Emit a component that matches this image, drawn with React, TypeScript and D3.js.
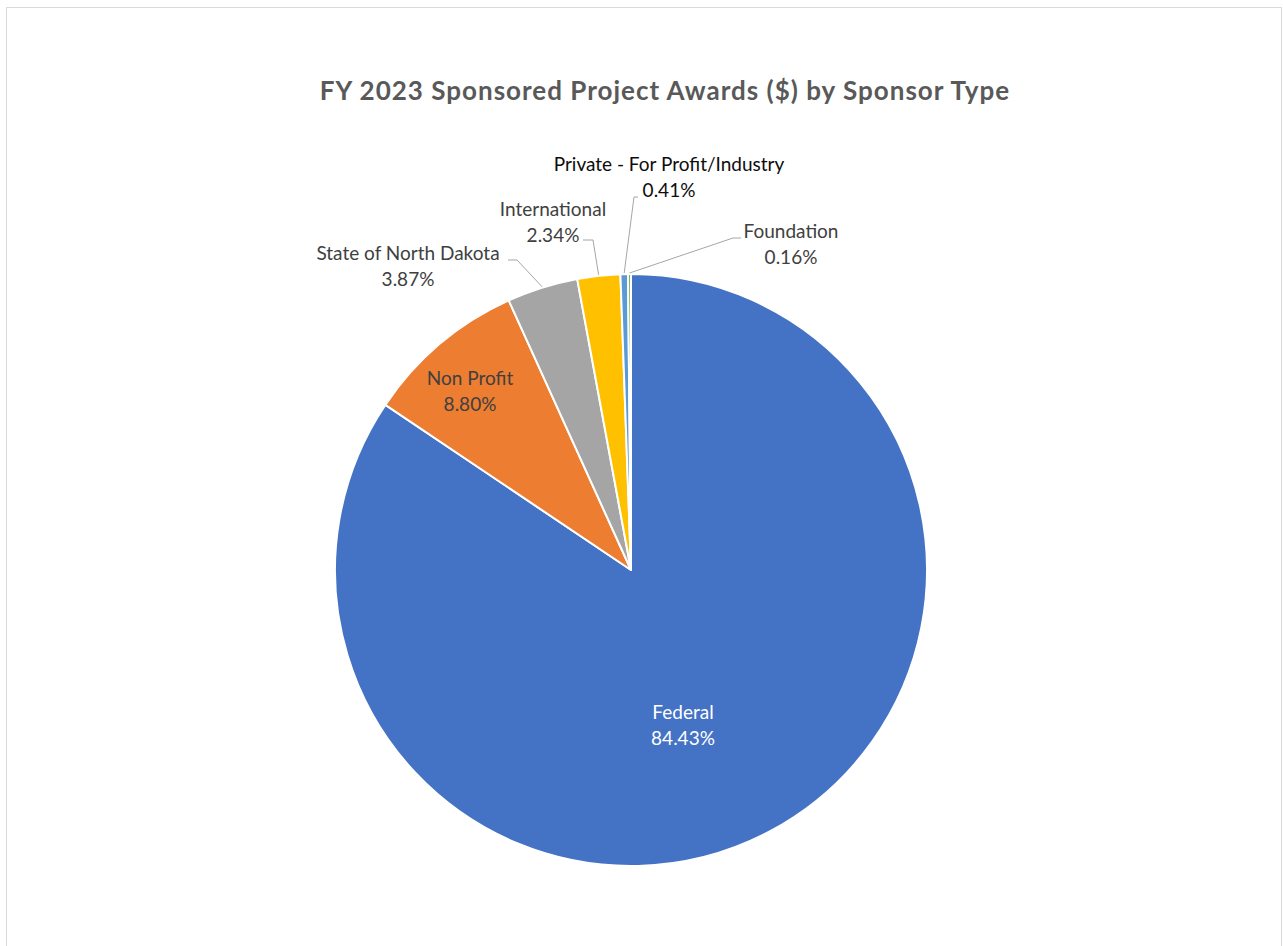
import React, { useEffect, useRef } from 'react';
import * as d3 from 'd3';

const categories = ['Federal', 'Non Profit', 'State of North Dakota', 'International', 'Private - For Profit/Industry', 'Foundation'];
const shares = [84.43, 8.80, 3.87, 2.34, 0.41, 0.16];
const colors = ['#4472C4', '#ED7D31', '#A5A5A5', '#FFC000', '#5B9BD5', '#70AD47'];

// label placement (svg coords): text center, first baseline; elbow = where the leader bends
const labelLayout: Record<string, { x: number; y: number; fill: string; elbow?: [number, number]; tail?: number }> = {
  'Federal': { x: 683, y: 719, fill: '#ffffff' },
  'Non Profit': { x: 470, y: 385, fill: '#404040' },
  'State of North Dakota': { x: 408, y: 260, fill: '#404040', elbow: [517, 260], tail: 508 },
  'International': { x: 553, y: 216, fill: '#404040', elbow: [593, 240], tail: 583 },
  'Private - For Profit/Industry': { x: 669, y: 171, fill: '#0d0d0d', elbow: [634, 197], tail: 638 },
  'Foundation': { x: 791, y: 238, fill: '#404040', elbow: [733, 238], tail: 741 },
};

const App = () => {
  const ref = useRef<SVGSVGElement | null>(null);
  const width = 1283;
  const height = 946;

  useEffect(() => {
    if (!ref.current) return;
    const svg = d3.select(ref.current);
    svg.selectAll('*').remove();

    const font = 'Lato, "Open Sans", sans-serif';

    svg.append('rect')
      .attr('x', 6.5).attr('y', 7.5)
      .attr('width', 1275).attr('height', 1000)
      .attr('fill', '#fff')
      .attr('stroke', '#D9D9D9');

    svg.append('text')
      .attr('x', 665).attr('y', 100)
      .attr('text-anchor', 'middle')
      .attr('font-family', font)
      .attr('font-weight', 700)
      .attr('font-size', 26)
      .attr('letter-spacing', 1)
      .attr('fill', '#595959')
      .text('FY 2023 Sponsored Project Awards ($) by Sponsor Type');

    const cx = 631, cy = 570, radius = 296;
    const g = svg.append('g').attr('transform', `translate(${cx},${cy})`);

    const data = categories.map((c, i) => ({ name: c, value: shares[i], color: colors[i] }));
    type D = typeof data[number];

    const pie = d3.pie<D>().sort(null).value(d => d.value);
    const arcs = pie(data);
    const arc = d3.arc<d3.PieArcDatum<D>>().innerRadius(0).outerRadius(radius);

    g.selectAll('path.slice')
      .data(arcs)
      .enter().append('path')
      .attr('class', 'slice')
      .attr('d', arc)
      .attr('fill', d => d.data.color)
      .attr('stroke', '#fff')
      .attr('stroke-width', 2)
      .attr('stroke-linejoin', 'round');

    // leader lines
    arcs.forEach(a => {
      const lay = labelLayout[a.data.name];
      if (!lay.elbow) return;
      const mid = (a.startAngle + a.endAngle) / 2;
      const px = cx + Math.sin(mid) * (radius + 1);
      const py = cy - Math.cos(mid) * (radius + 1);
      svg.append('polyline')
        .attr('points', `${px},${py} ${lay.elbow[0]},${lay.elbow[1]} ${lay.tail},${lay.elbow[1]}`)
        .attr('fill', 'none')
        .attr('stroke', '#A6A6A6')
        .attr('stroke-width', 1);
    });

    // labels
    arcs.forEach(a => {
      const lay = labelLayout[a.data.name];
      const t = svg.append('text')
        .attr('text-anchor', 'middle')
        .attr('font-family', font)
        .attr('font-size', 19)
        .attr('fill', lay.fill);
      t.append('tspan').attr('x', lay.x).attr('y', lay.y).text(a.data.name);
      t.append('tspan').attr('x', lay.x).attr('y', lay.y + 26).text(`${a.data.value.toFixed(2)}%`);
    });
  }, []);

  return (
    <svg ref={ref} width={width} height={height}
      style={{ position: 'absolute', left: 0, top: 0, background: '#fff' }} />
  );
};

export default App;
